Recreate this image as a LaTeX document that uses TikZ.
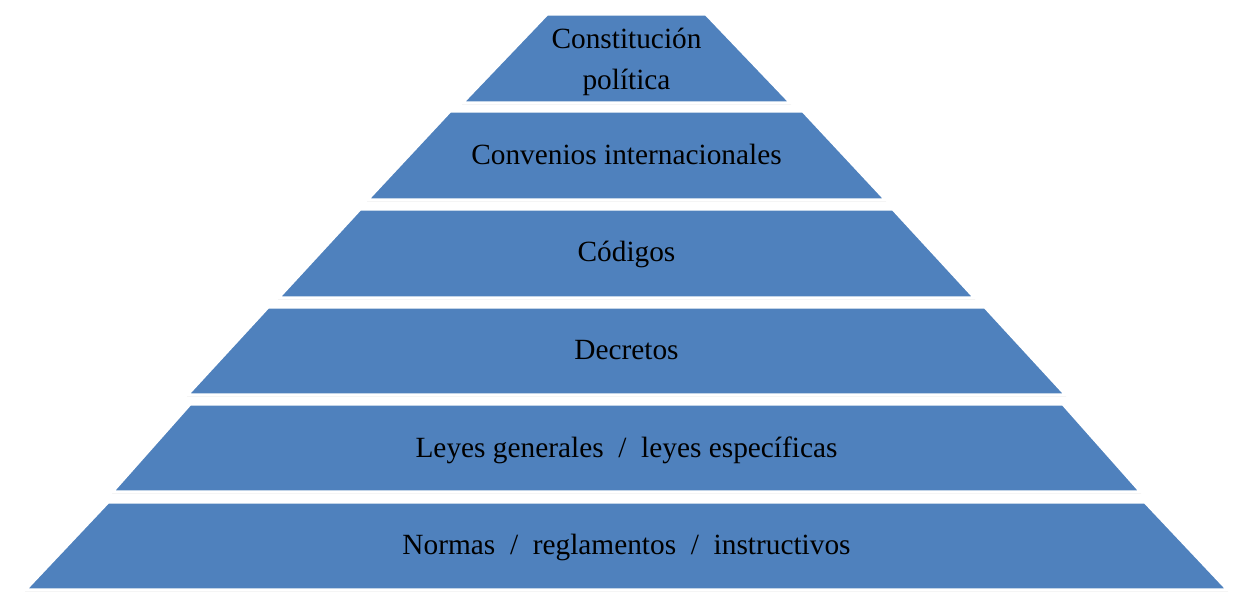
\documentclass[tikz,border=0pt]{standalone}
\usepackage{fontspec}
\setmainfont{Liberation Serif}
\usepackage{tikz}
\usetikzlibrary{shadows}

\definecolor{layerblue}{HTML}{4F81BD}

\begin{document}
\begin{tikzpicture}[
    x=0.75pt, y=-0.75pt,
    layer/.style={fill=layerblue, draw=white, line width=2.4pt, line join=round,
        drop shadow={shadow xshift=0pt, shadow yshift=-1.2pt, opacity=0.18, fill=black}},
    txt/.style={align=center, font=\fontsize{22}{30.5}\selectfont, text=black, inner sep=0pt}
]
\useasboundingbox (0,0) rectangle (1248,598);

% Layers
\path[layer] (547,14) -- (706,14) -- (791,103) -- (462,103) -- cycle;
\path[layer] (450,111) -- (803,111) -- (886,200) -- (367,200) -- cycle;
\path[layer] (360,209) -- (893,209) -- (975,298) -- (278,298) -- cycle;
\path[layer] (268,307) -- (985,307) -- (1066,395) -- (187,395) -- cycle;
\path[layer] (190,404) -- (1063,404) -- (1141,492) -- (112,492) -- cycle;
\path[layer] (108,502) -- (1145,502) -- (1228,590) -- (25,590) -- cycle;

% Texts
\node[txt] (constitucion) at (626.5,62) {Constitución\\política};
\node[txt, anchor=base] (convenios) at (626.5,165) {Convenios internacionales};
\node[txt, anchor=base] (codigos) at (626.5,262) {Códigos};
\node[txt, anchor=base] (decretos) at (626.5,359) {Decretos};
\node[txt, anchor=base] (leyes) at (626.5,457) {Leyes generales ~/~ leyes específicas};
\node[txt, anchor=base] (normas) at (626.5,554) {Normas ~/~ reglamentos ~/~ instructivos};

\end{tikzpicture}
\end{document}
